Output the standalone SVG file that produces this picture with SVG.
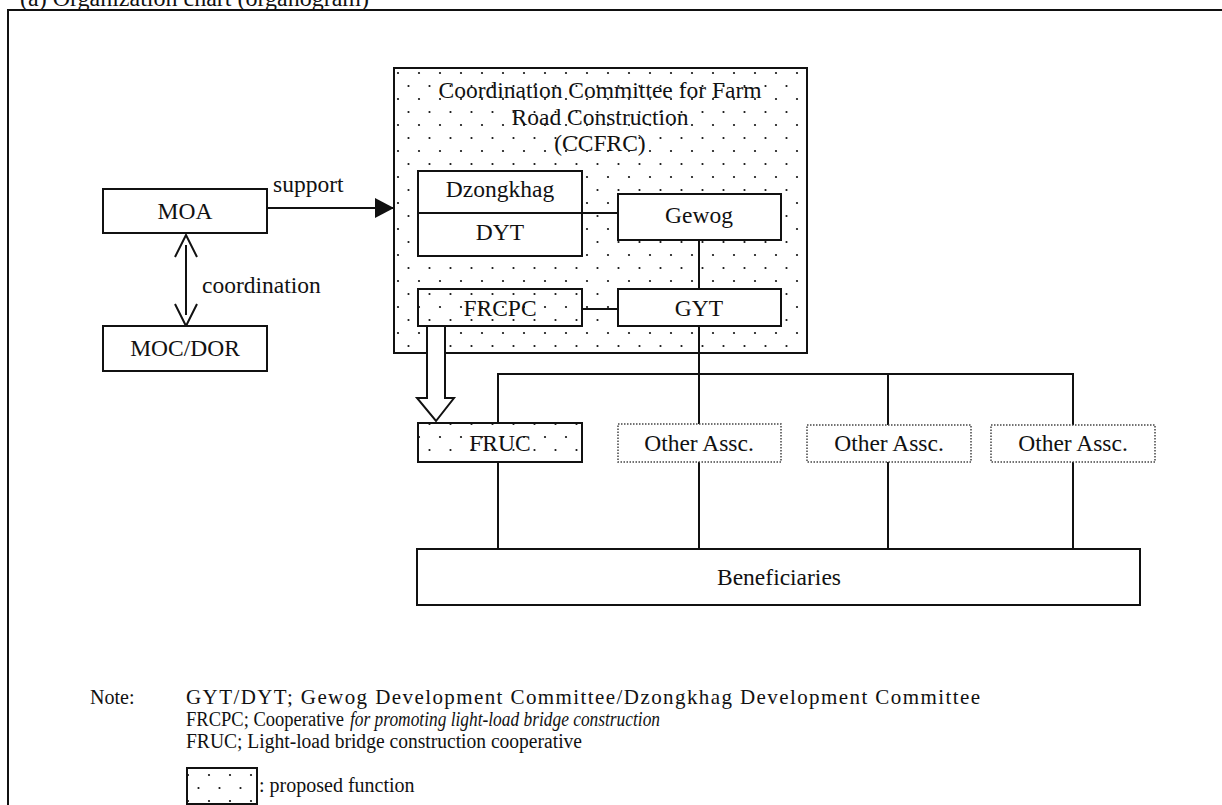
<svg xmlns="http://www.w3.org/2000/svg" width="1222" height="805" viewBox="0 0 1222 805">
<style>
text{font-family:"Liberation Serif","Times New Roman",serif;font-size:23.5px;fill:#111}
.c{text-anchor:middle}
.n{font-size:20px}
.box{fill:#fff;stroke:#111;stroke-width:2}
.dot{fill:url(#dots);stroke:#111;stroke-width:2}
.oth{fill:#fff;stroke:#444;stroke-width:1.5;stroke-dasharray:1.5 1.5}
.ln{fill:none;stroke:#111;stroke-width:2}
</style>
<defs>
<pattern id="dots" patternUnits="userSpaceOnUse" x="394" y="68" width="21" height="26">
<rect width="21" height="26" fill="#fff"/>
<circle cx="4" cy="5" r="1.1" fill="#111"/>
<circle cx="14.5" cy="18" r="1.1" fill="#111"/>
</pattern>
<marker id="fill" markerWidth="20" markerHeight="20" refX="19" refY="10" orient="auto" markerUnits="userSpaceOnUse">
<path d="M0,0 L19,10 L0,20 Z" fill="#111"/>
</marker>
</defs>
<rect width="1222" height="805" fill="#fff"/>
<text x="20" y="6" style="font-size:24px">(a) Organization chart (organogram)</text>
<path d="M8,805 L8,10 L1222,10" class="ln"/>

<g id="ccfrc">
<rect x="394" y="68" width="413" height="285" class="dot"/>
<text x="600" y="98" class="c">Coordination Committee for Farm</text>
<text x="600" y="125" class="c">Road Construction</text>
<text x="600" y="151" class="c">(CCFRC)</text>
</g>

<g id="connectors">
<line x1="267" y1="208" x2="394" y2="208" class="ln" marker-end="url(#fill)"/>
<text x="273" y="192">support</text>
<line x1="186" y1="245" x2="186" y2="315" class="ln"/>
<path d="M175,257 L186,235 L197,257" class="ln"/>
<path d="M175,304 L186,326 L197,304" class="ln"/>
<text x="202" y="293">coordination</text>
<line x1="582" y1="213" x2="618" y2="213" class="ln"/>
<line x1="699" y1="240" x2="699" y2="289" class="ln"/>
<line x1="582" y1="309" x2="618" y2="309" class="ln"/>
<line x1="699" y1="326" x2="699" y2="424" class="ln"/>
<path d="M498,423 L498,374 L1073,374 L1073,425" class="ln"/>
<line x1="888" y1="374" x2="888" y2="425" class="ln"/>
<line x1="498" y1="462" x2="498" y2="549" class="ln"/>
<line x1="699" y1="462" x2="699" y2="549" class="ln"/>
<line x1="888" y1="462" x2="888" y2="549" class="ln"/>
<line x1="1073" y1="462" x2="1073" y2="549" class="ln"/>
<polygon points="427,326 445,326 445,398 454,398 436,421 417,398 427,398" fill="#fff" stroke="#111" stroke-width="2"/>
</g>

<g id="moa"><rect x="103" y="189" width="164" height="44" class="box"/><text x="185" y="219" class="c">MOA</text></g>
<g id="mocdor"><rect x="103" y="326" width="164" height="45" class="box"/><text x="185" y="356" class="c">MOC/DOR</text></g>
<g id="dzongkhag">
<rect x="418" y="171" width="164" height="85" class="box"/>
<line x1="418" y1="213" x2="582" y2="213" class="ln"/>
<text x="500" y="197" class="c">Dzongkhag</text>
<text x="500" y="240" class="c">DYT</text>
</g>
<g id="gewog"><rect x="618" y="194" width="163" height="46" class="box"/><text x="699" y="223" class="c">Gewog</text></g>
<g id="frcpc"><rect x="418" y="289" width="164" height="37" class="dot"/><text x="500" y="316" class="c">FRCPC</text></g>
<g id="gyt"><rect x="618" y="289" width="163" height="37" class="box"/><text x="699" y="316" class="c">GYT</text></g>
<g id="fruc"><rect x="418" y="423" width="164" height="39" class="dot"/><text x="500" y="451" class="c">FRUC</text></g>
<g id="other1"><rect x="618" y="424" width="163" height="38" class="oth"/><text x="699" y="451" class="c">Other Assc.</text></g>
<g id="other2"><rect x="807" y="425" width="164" height="37" class="oth"/><text x="889" y="451" class="c">Other Assc.</text></g>
<g id="other3"><rect x="991" y="425" width="164" height="37" class="oth"/><text x="1073" y="451" class="c">Other Assc.</text></g>
<g id="beneficiaries"><rect x="417" y="549" width="723" height="56" class="box"/><text x="779" y="585" class="c">Beneficiaries</text></g>

<g id="notes">
<text x="90" y="704" class="n">Note:</text>
<text x="186" y="704" class="n" style="font-size:21px" textLength="794" lengthAdjust="spacing">GYT/DYT; Gewog Development Committee/Dzongkhag Development Committee</text>
<text x="186" y="726" class="n" textLength="158" lengthAdjust="spacingAndGlyphs">FRCPC; Cooperative</text>
<text x="350" y="726" class="n" font-style="italic" textLength="310" lengthAdjust="spacingAndGlyphs">for promoting light-load bridge construction</text>
<text x="186" y="748" class="n" textLength="396" lengthAdjust="spacingAndGlyphs">FRUC; Light-load bridge construction cooperative</text>
</g>
<g id="legend">
<rect x="187" y="768" width="70" height="36" class="dot"/>
<text x="259" y="792" class="n">: proposed function</text>
</g>
</svg>
